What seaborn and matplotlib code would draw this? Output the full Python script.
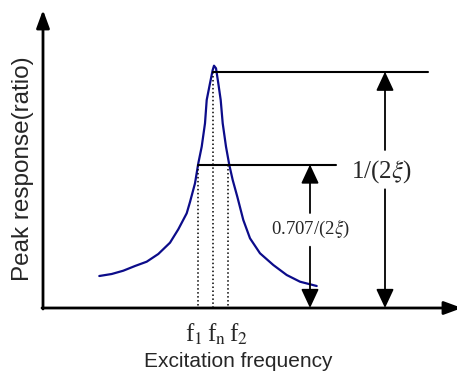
import matplotlib
matplotlib.use("Agg")
import matplotlib.pyplot as plt
import seaborn as sns
import numpy as np

# ---- data (x: excitation frequency, y: peak response), origin at axes corner ----
freq = [56.3, 68.7, 80.3, 92.0, 103.7, 115.3, 127.0, 135.3, 143.7, 147.0, 152.0,
        155.3, 158.7, 162.0, 163.7, 167.0, 169.7, 171.0, 173.0, 175.3, 177.7,
        179.7, 183.0, 186.3, 189.7, 194.3, 200.3, 207.0, 217.0, 230.3, 243.7,
        257.0, 273.7]
response = [32.0, 34.0, 37.3, 42.0, 46.3, 54.0, 65.3, 78.7, 94.7, 106.0, 124.7,
            144.7, 161.3, 184.7, 208.0, 224.7, 238.0, 242.3, 239.7, 224.7, 208.0,
            184.7, 161.3, 143.0, 128.0, 111.3, 88.0, 69.7, 54.7, 43.0, 33.0,
            26.3, 22.0]

f_marks = [155.0, 169.7, 185.0]            # f1, fn, f2
f_labels = [r"f$_1$", r"f$_\mathrm{n}$", r"f$_2$"]
peak_level = 236.3                         # 1/(2xi)
half_level = 143.5                         # 0.707/(2xi)
peak_label = r"1/(2$\xi$)"
half_label = r"0.707/(2$\xi$)"
x_title = "Excitation frequency"
y_title = "Peak response(ratio)"

sns.set_style("white")
plt.rcParams["font.family"] = ["Liberation Sans", "DejaVu Sans"]
plt.rcParams["mathtext.fontset"] = "stix"

fig = plt.figure(figsize=(4.57, 3.71), dpi=100)
ax = fig.add_axes([0, 0, 1, 1])
ax.set_xlim(-43, 414)
ax.set_ylim(-63, 308)
ax.axis("off")

# curve
sns.lineplot(x=freq, y=response, sort=False, color="#0c0c8a", lw=1.6, ax=ax,
             estimator=None)

# axes with arrows
ax_arrow = dict(arrowstyle="-|>,head_length=0.6,head_width=0.22", lw=2,
                color="black", mutation_scale=18, shrinkA=0, shrinkB=0)
ax.annotate("", xy=(0, 298), xytext=(0, -1), arrowprops=ax_arrow, annotation_clip=False)
ax.annotate("", xy=(419, 0), xytext=(-1, 0), arrowprops=ax_arrow, annotation_clip=False)

# horizontal reference lines
ax.plot([f_marks[1], 385], [peak_level, peak_level], color="black", lw=1.5)
ax.plot([f_marks[0], 293], [half_level, half_level], color="black", lw=1.5)

# dotted frequency lines
ax.plot([f_marks[0], f_marks[0]], [half_level, 0], color="black", lw=1.1, ls=(0, (1, 1.6)))
ax.plot([f_marks[1], f_marks[1]], [peak_level, 0], color="black", lw=1.1, ls=(0, (1, 1.6)))
ax.plot([f_marks[2], f_marks[2]], [half_level, 0], color="black", lw=1.1, ls=(0, (1, 1.6)))

# dimension arrows
dim_arrow = dict(arrowstyle="-|>,head_length=0.58,head_width=0.27", lw=1.3,
                 color="black", mutation_scale=20, shrinkA=0, shrinkB=0)
xb = 342
ax.annotate("", xy=(xb, peak_level), xytext=(xb, 158), arrowprops=dim_arrow)
ax.annotate("", xy=(xb, 0), xytext=(xb, 118.7), arrowprops=dim_arrow)
xs = 267
ax.annotate("", xy=(xs, half_level), xytext=(xs, 95), arrowprops=dim_arrow)
ax.annotate("", xy=(xs, 0), xytext=(xs, 61.3), arrowprops=dim_arrow)

serif = ["Liberation Serif", "DejaVu Serif"]
ax.text(338, 136.3, peak_label, ha="center", va="center", fontsize=18, family=serif)
ax.text(267.8, 79, half_label, ha="center", va="center", fontsize=13.5, family=serif)

for fx, lab in zip([151, 174, 196], f_labels):
    ax.text(fx, -33.7, lab, ha="center", va="baseline", fontsize=18, family=serif)

ax.text(195, -58.7, x_title, ha="center", va="baseline", fontsize=15)
ax.text(-20.3, 139.3, y_title, ha="center", va="center", rotation=90, fontsize=17.5)

fig.savefig("out.png", dpi=100)
